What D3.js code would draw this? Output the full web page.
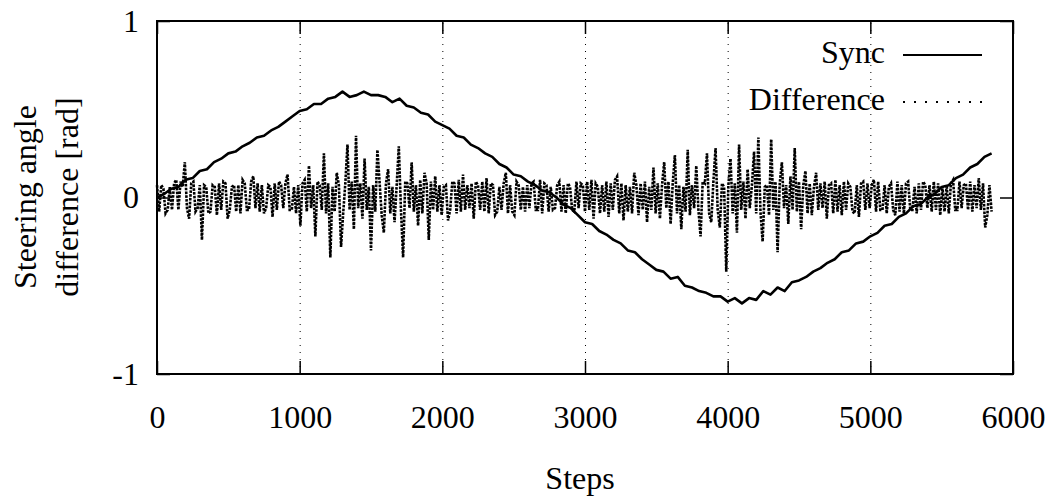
<!DOCTYPE html>
<html>
<head>
<meta charset="utf-8">
<script src="https://cdn.jsdelivr.net/npm/d3@7"></script>
<style>
  body { margin: 0; background: #fff; }
  text { font-family: "Liberation Serif", "DejaVu Serif", serif; }
</style>
</head>
<body>
<div id="chart"></div>
<script>
(function () {
  // steps axis ticks and y ticks
  var xTicks = [0, 1000, 2000, 3000, 4000, 5000, 6000];
  var gridTicks = [1000, 2000, 3000, 4000, 5000];
  var yTicks = [-1, 0, 1];

  // Sync: one value every 50 steps, starting at step 0
  var syncStep = 50;
  var syncValues = [
    0.00, 0.02, 0.05, 0.06, 0.10, 0.11, 0.15, 0.16, 0.20, 0.22,
    0.25, 0.26, 0.29, 0.31, 0.34, 0.35, 0.38, 0.40, 0.43, 0.46,
    0.49, 0.50, 0.53, 0.53, 0.56, 0.57, 0.60, 0.57, 0.58, 0.60,
    0.58, 0.58, 0.57, 0.54, 0.56, 0.52, 0.51, 0.48, 0.47, 0.43,
    0.41, 0.39, 0.35, 0.34, 0.30, 0.28, 0.25, 0.23, 0.19, 0.17,
    0.13, 0.12, 0.09, 0.07, 0.04, 0.03, 0.00, -0.04, -0.06, -0.10,
    -0.14, -0.15, -0.19, -0.21, -0.24, -0.26, -0.30, -0.31, -0.35, -0.38,
    -0.41, -0.42, -0.46, -0.45, -0.50, -0.51, -0.53, -0.54, -0.56, -0.56,
    -0.59, -0.57, -0.60, -0.57, -0.58, -0.53, -0.55, -0.51, -0.53, -0.48,
    -0.47, -0.45, -0.42, -0.40, -0.37, -0.35, -0.31, -0.30, -0.26, -0.25,
    -0.22, -0.20, -0.16, -0.15, -0.11, -0.09, -0.05, -0.04, 0.00, 0.02,
    0.06, 0.07, 0.11, 0.13, 0.17, 0.19, 0.23, 0.25
  ];

  // Difference: one value every 15 steps, starting at step 0
  var diffStep = 15;
  var diffValues = [
    0.07, -0.08, 0.07, 0.05, -0.09, -0.07, 0.06, -0.07, 0.08, 0.10,
    -0.07, 0.09, 0.06, 0.20, -0.06, -0.12, 0.08, 0.09, -0.08, -0.06,
    0.07, -0.24, 0.07, 0.06, -0.09, -0.08, 0.07, 0.06, -0.10, 0.08,
    -0.07, 0.09, 0.08, -0.12, -0.07, 0.06, 0.07, -0.08, 0.07, -0.09,
    0.10, 0.08, -0.07, -0.07, 0.09, 0.12, -0.06, 0.08, -0.08, 0.07,
    -0.09, -0.06, 0.07, 0.06, -0.11, 0.08, -0.07, 0.09, 0.07, -0.06,
    0.08, 0.13, -0.07, -0.07, 0.06, -0.09, 0.07, -0.16, 0.08, 0.10,
    -0.08, 0.18, -0.06, 0.07, -0.22, 0.09, 0.07, -0.07, 0.25, -0.09,
    0.08, -0.34, 0.06, -0.08, 0.14, 0.07, -0.28, -0.09, 0.08, 0.30,
    -0.07, 0.09, -0.18, 0.35, -0.06, 0.08, -0.12, 0.22, -0.07, 0.06,
    -0.30, 0.07, -0.08, 0.27, 0.09, -0.10, -0.20, 0.08, 0.16, -0.09,
    0.06, -0.14, 0.07, 0.29, -0.07, -0.34, 0.09, 0.08, -0.06, 0.20,
    -0.08, 0.07, -0.16, 0.10, -0.09, 0.14, 0.08, -0.24, 0.09, -0.07,
    0.12, -0.08, 0.07, -0.10, 0.06, 0.07, -0.13, -0.07, 0.09, 0.08,
    -0.09, 0.10, -0.08, 0.13, -0.07, 0.07, -0.06, 0.08, -0.12, 0.09,
    0.07, -0.07, 0.09, -0.08, 0.11, -0.09, 0.08, 0.07, -0.10, -0.08,
    0.06, -0.07, 0.08, 0.14, -0.09, 0.07, -0.08, -0.10, 0.09, 0.07,
    -0.07, 0.06, -0.08, 0.07, -0.06, 0.08, 0.09, -0.07, -0.07, 0.10,
    -0.09, 0.08, 0.07, -0.08, 0.06, -0.07, -0.06, 0.07, 0.09, -0.08,
    0.07, -0.09, 0.08, 0.06, -0.07, -0.08, 0.09, -0.06, 0.08, 0.07,
    -0.08, 0.09, -0.07, 0.10, -0.12, 0.08, 0.06, -0.09, 0.07, -0.08,
    0.09, -0.11, 0.08, -0.07, 0.10, 0.12, -0.09, 0.08, -0.13, 0.07,
    -0.08, 0.06, -0.09, 0.14, 0.07, -0.10, 0.08, -0.07, 0.09, -0.14,
    0.06, -0.07, 0.17, -0.09, 0.08, -0.12, 0.07, 0.20, -0.06, 0.09,
    -0.15, 0.08, 0.24, -0.09, 0.07, -0.18, 0.06, -0.08, 0.27, -0.10,
    0.07, -0.06, 0.18, -0.07, -0.22, 0.09, 0.08, 0.25, -0.09, -0.14,
    0.09, 0.28, -0.07, -0.17, 0.08, 0.06, -0.42, 0.07, 0.22, -0.09,
    0.08, -0.20, 0.30, -0.07, 0.09, -0.12, 0.16, -0.06, 0.07, 0.26,
    -0.09, 0.34, -0.08, -0.25, 0.06, 0.07, -0.10, 0.33, -0.07, 0.09,
    -0.31, 0.08, 0.20, -0.06, 0.07, -0.15, 0.12, -0.07, 0.28, -0.08,
    0.09, -0.18, 0.07, 0.15, -0.09, 0.08, -0.10, 0.06, 0.14, -0.07,
    0.08, -0.06, 0.09, -0.12, 0.07, 0.08, -0.09, 0.10, -0.08, 0.07,
    -0.10, 0.09, -0.07, 0.08, 0.06, -0.08, -0.09, 0.07, -0.11, 0.08,
    0.09, -0.07, 0.08, -0.06, 0.07, 0.10, -0.08, 0.09, -0.07, -0.07,
    0.07, -0.09, 0.06, 0.08, -0.07, -0.10, 0.09, -0.08, 0.07, -0.09,
    0.08, 0.09, -0.07, -0.07, 0.06, -0.09, 0.08, -0.07, 0.09, 0.07,
    -0.06, 0.07, -0.08, 0.09, -0.07, 0.08, -0.10, 0.06, -0.08, 0.07,
    -0.09, 0.08, 0.10, -0.07, -0.07, 0.09, -0.06, 0.07, 0.08, -0.07,
    0.09, -0.08, 0.07, -0.06, 0.11, -0.07, 0.08, -0.17, -0.10, 0.07,
    -0.08
  ];

  var w = 1057,
      h = 497;
  var left = 157, right = 1013, top = 21, bottom = 374;

  var svg = d3.select("#chart")
      .append("svg")
      .attr("width", w)
      .attr("height", h);

  var x = d3.scaleLinear().domain([0, 6000]).range([left, right]);
  var y = d3.scaleLinear().domain([-1, 1]).range([bottom, top]);
  var fmt = function(d) { return String(d); };

  // grid
  svg.append("g")
      .attr("transform", "translate(0," + bottom + ")")
      .call(d3.axisBottom(x).tickValues(gridTicks).tickSize(-(bottom - top)).tickFormat(""))
      .call(function(g) { g.select(".domain").remove(); })
      .selectAll("line")
      .attr("stroke", "#000")
      .attr("stroke-width", 1)
      .attr("stroke-dasharray", "1 6");

  var line = d3.line()
      .x(function(d) { return x(d[0]); })
      .y(function(d) { return y(d[1]); });

  var diffData = diffValues.map(function(v, i) { return [i * diffStep, v]; });
  var syncData = syncValues.map(function(v, i) { return [i * syncStep, v]; });

  svg.append("path")
      .datum(diffData)
      .attr("fill", "none")
      .attr("stroke", "#000")
      .attr("stroke-width", 2.6)
      .attr("stroke-dasharray", "2.6 1.2")
      .attr("d", line);

  svg.append("path")
      .datum(syncData)
      .attr("fill", "none")
      .attr("stroke", "#000")
      .attr("stroke-width", 2.6)
      .attr("stroke-linejoin", "round")
      .attr("d", line);

  // axes
  var xAxis = svg.append("g")
      .attr("transform", "translate(0," + bottom + ")")
      .call(d3.axisBottom(x).tickValues(xTicks).tickFormat(fmt).tickSize(-13).tickSizeOuter(0).tickPadding(31));
  var xTop = svg.append("g")
      .attr("transform", "translate(0," + top + ")")
      .call(d3.axisTop(x).tickValues(xTicks).tickSize(-13).tickSizeOuter(0).tickFormat(""));
  var yAxis = svg.append("g")
      .attr("transform", "translate(" + left + ",0)")
      .call(d3.axisLeft(y).tickValues(yTicks).tickFormat(fmt).tickSize(-13).tickSizeOuter(0).tickPadding(18));
  var yRight = svg.append("g")
      .attr("transform", "translate(" + right + ",0)")
      .call(d3.axisRight(y).tickValues(yTicks).tickSize(-13).tickSizeOuter(0).tickFormat(""));

  [xAxis, xTop, yAxis, yRight].forEach(function(g) {
    g.select(".domain").remove();
    g.selectAll("line").attr("stroke", "#000").attr("stroke-width", 1.5);
    g.selectAll("text")
        .attr("fill", "#000")
        .attr("font-family", "Liberation Serif, serif")
        .attr("font-size", "32px");
  });

  svg.append("rect")
      .attr("x", left)
      .attr("y", top)
      .attr("width", right - left)
      .attr("height", bottom - top)
      .attr("fill", "none")
      .attr("stroke", "#000")
      .attr("stroke-width", 2);

  // axis titles
  svg.append("text")
      .text("Steps")
      .attr("x", 580)
      .attr("y", 489)
      .attr("text-anchor", "middle")
      .attr("font-size", "32px");

  svg.append("text")
      .text("Steering angle")
      .attr("transform", "translate(36,197) rotate(-90)")
      .attr("text-anchor", "middle")
      .attr("font-size", "32px");

  svg.append("text")
      .text("difference [rad]")
      .attr("transform", "translate(78,197) rotate(-90)")
      .attr("text-anchor", "middle")
      .attr("font-size", "32px");

  // legend
  var legend = [
    { name: "Sync", y: 63, dash: null, width: 2.2 },
    { name: "Difference", y: 110, dash: "2 9", width: 2 }
  ];

  legend.forEach(function(d) {
    svg.append("text")
        .text(d.name)
        .attr("x", 885)
        .attr("y", d.y)
        .attr("text-anchor", "end")
        .attr("font-size", "32px");
    svg.append("line")
        .attr("x1", 903)
        .attr("x2", 982)
        .attr("y1", d.y - 8)
        .attr("y2", d.y - 8)
        .attr("stroke", "#000")
        .attr("stroke-width", d.width)
        .attr("stroke-dasharray", d.dash);
  });
})();
</script>
</body>
</html>
